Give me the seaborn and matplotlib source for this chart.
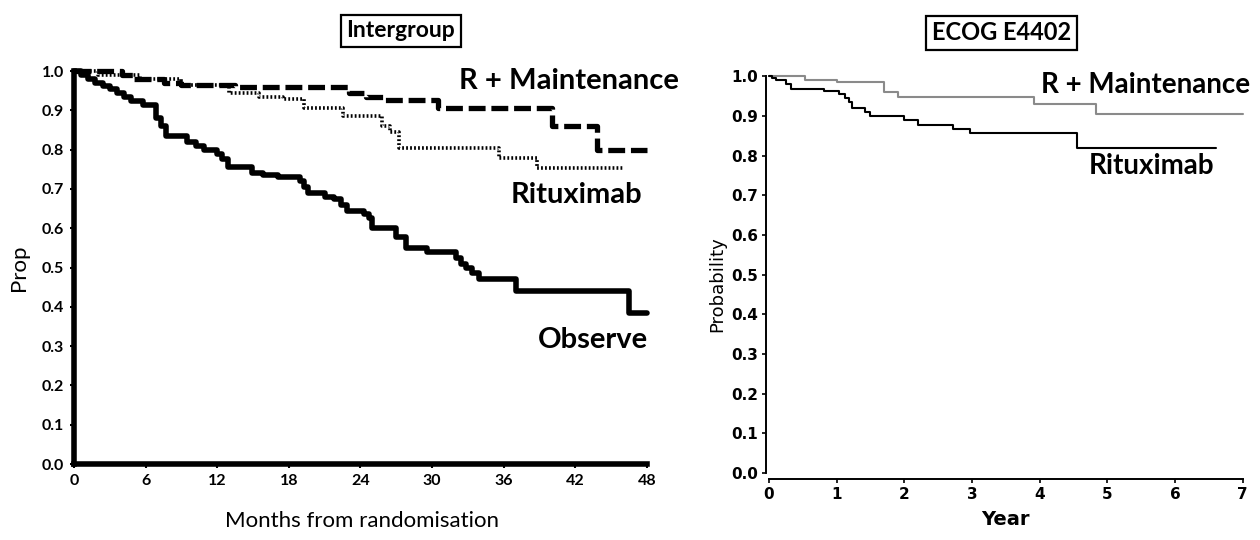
import matplotlib
matplotlib.use("Agg")
import pandas as pd
import matplotlib.pyplot as plt
import seaborn as sns

# Intergroup - months from randomisation, step points (time, survival)
ig_obs_t = [0, 0.6, 1.2, 1.8, 2.4, 3.0, 3.6, 4.2, 4.8, 5.8, 6.9, 7.3, 7.7, 9.5, 10.2,
            10.9, 12.0, 12.4, 12.9, 14.9, 15.8, 17.1, 18.9, 19.3, 19.6, 21.0, 21.8, 22.4,
            22.9, 24.3, 24.7, 25.0, 27.0, 27.8, 29.6, 32.0, 32.4, 32.8, 33.3, 33.9, 37.0,
            46.5, 48.0]
ig_obs_s = [1.0, 0.99, 0.98, 0.97, 0.962, 0.954, 0.945, 0.935, 0.923, 0.914, 0.88, 0.86,
            0.835, 0.82, 0.81, 0.80, 0.79, 0.775, 0.755, 0.74, 0.735, 0.73, 0.72, 0.705,
            0.69, 0.68, 0.675, 0.66, 0.645, 0.635, 0.625, 0.60, 0.578, 0.55, 0.54, 0.525,
            0.51, 0.50, 0.485, 0.47, 0.44, 0.385, 0.385]

ig_rm_t = [0, 4.0, 5.0, 7.5, 9.0, 13.5, 23.0, 24.5, 26.0, 30.5, 40.0, 43.8, 48.0]
ig_rm_s = [1.0, 0.99, 0.98, 0.97, 0.965, 0.96, 0.945, 0.935, 0.925, 0.905, 0.86, 0.80, 0.80]

ig_rit_t = [0, 2.0, 5.5, 9.0, 13.0, 15.5, 17.5, 19.3, 22.5, 25.8, 26.5, 27.2, 35.6, 38.8, 46.0]
ig_rit_s = [1.0, 0.99, 0.98, 0.965, 0.945, 0.935, 0.93, 0.905, 0.885, 0.86, 0.845, 0.805,
            0.778, 0.752, 0.752]

# ECOG E4402 - years
ec_rm_t = [0, 0.53, 1.0, 1.7, 1.9, 3.92, 4.83, 7.0]
ec_rm_s = [1.0, 0.99, 0.984, 0.96, 0.948, 0.93, 0.905, 0.905]

ec_rit_t = [0, 0.04, 0.1, 0.25, 0.33, 0.82, 1.03, 1.12, 1.18, 1.22, 1.42, 1.5, 2.0, 2.2,
            2.72, 2.97, 4.55, 6.6]
ec_rit_s = [1.0, 0.995, 0.99, 0.98, 0.968, 0.963, 0.955, 0.945, 0.935, 0.92, 0.91, 0.90,
            0.89, 0.877, 0.868, 0.857, 0.82, 0.82]

ig_xticks = [0, 6, 12, 18, 24, 30, 36, 42, 48]
ec_xticks = [0, 1, 2, 3, 4, 5, 6, 7]
yticks = [0.0, 0.1, 0.2, 0.3, 0.4, 0.5, 0.6, 0.7, 0.8, 0.9, 1.0]


def km(ax, t, s, **kw):
    df = pd.DataFrame({"t": t, "s": s})
    sns.lineplot(data=df, x="t", y="s", ax=ax, estimator=None, sort=False,
                 drawstyle="steps-post", clip_on=False, **kw)


sns.set_style("ticks")
narrow = ["Lato", "DejaVu Sans"]
plt.rcParams["font.family"] = ["DejaVu Sans"]
plt.rcParams["text.color"] = "black"
plt.rcParams["axes.labelcolor"] = "black"
plt.rcParams["xtick.color"] = "black"
plt.rcParams["ytick.color"] = "black"
plt.rcParams["axes.edgecolor"] = "black"

fig = plt.figure(figsize=(12.6, 5.4), dpi=100)

# ---- Intergroup ----
ax1 = fig.add_axes([0.0587, 0.1407, 0.4548, 0.7278])
km(ax1, ig_obs_t, ig_obs_s, color="black", linewidth=4.0)
km(ax1, ig_rm_t, ig_rm_s, color="black", linewidth=3.8, linestyle=(0, (3.2, 1.1)))
km(ax1, ig_rit_t, ig_rit_s, color="black", linewidth=2.6, linestyle=(0, (0.5, 0.6)))
ax1.set_xlim(0, 48)
ax1.set_ylim(0, 1.0)
sns.despine(ax=ax1)
ax1.spines["left"].set_linewidth(4.0)
ax1.spines["bottom"].set_linewidth(4.0)
ax1.set_xticks(ig_xticks)
ax1.set_yticks(yticks)
ax1.set_yticklabels([f"{v:.1f}" for v in yticks])
for lab in ax1.get_xticklabels() + ax1.get_yticklabels():
    lab.set_family(narrow)
    lab.set_fontweight("bold")
    lab.set_fontsize(11.5)
ax1.tick_params(length=3, width=1.5, pad=4)
ax1.set_xlabel("Months from randomisation", family=narrow, fontsize=16)
ax1.set_ylabel("Prop", family=narrow, fontsize=16)
ax1.xaxis.set_label_coords(0.503, -0.12)
ax1.yaxis.set_label_coords(-0.078, 0.5)
ax1.text(41.5, 0.975, "R + Maintenance", family=narrow, fontsize=21, fontweight="bold",
         ha="center", va="center")
ax1.text(42.1, 0.685, "Rituximab", family=narrow, fontsize=21, fontweight="bold",
         ha="center", va="center")
ax1.text(43.5, 0.315, "Observe", family=narrow, fontsize=21, fontweight="bold",
         ha="center", va="center")
fig.text(0.318, 0.943, "Intergroup", family=narrow, fontsize=16.5, fontweight="bold",
         ha="center", va="center",
         bbox=dict(boxstyle="square,pad=0.25", facecolor="white", edgecolor="black", linewidth=1.6))

# ---- ECOG E4402 ----
ax2 = fig.add_axes([0.6103, 0.124, 0.376, 0.735])
km(ax2, ec_rm_t, ec_rm_s, color="#8a8a8a", linewidth=1.5)
km(ax2, ec_rit_t, ec_rit_s, color="black", linewidth=1.5)
ax2.set_xlim(0, 7)
ax2.set_ylim(0, 1.0)
sns.despine(ax=ax2)
ax2.spines["left"].set_position(("outward", 2))
ax2.spines["bottom"].set_position(("outward", 4))
ax2.spines["left"].set_linewidth(1.4)
ax2.spines["bottom"].set_linewidth(1.4)
ax2.set_xticks(ec_xticks)
ax2.set_yticks(yticks)
ax2.set_xticklabels([str(v) for v in ec_xticks], fontweight="bold", fontsize=11)
ax2.set_yticklabels([f"{v:.1f}" for v in yticks], fontweight="bold", fontsize=11)
ax2.tick_params(length=3, width=1.2, pad=3)
ax2.set_xlabel("Year", fontsize=14, fontweight="bold")
ax2.set_ylabel("Probability", fontsize=13)
ax2.xaxis.set_label_coords(0.5, -0.093)
ax2.yaxis.set_label_coords(-0.09, 0.476)
ax2.text(5.57, 0.977, "R + Maintenance", family=narrow, fontsize=20, fontweight="bold",
         ha="center", va="center")
ax2.text(5.66, 0.773, "Rituximab", family=narrow, fontsize=20, fontweight="bold",
         ha="center", va="center")
fig.text(0.795, 0.939, "ECOG E4402", family=narrow, fontsize=17, fontweight="bold",
         ha="center", va="center",
         bbox=dict(boxstyle="square,pad=0.25", facecolor="white", edgecolor="black", linewidth=1.6))

fig.savefig("out.png", dpi=100)
